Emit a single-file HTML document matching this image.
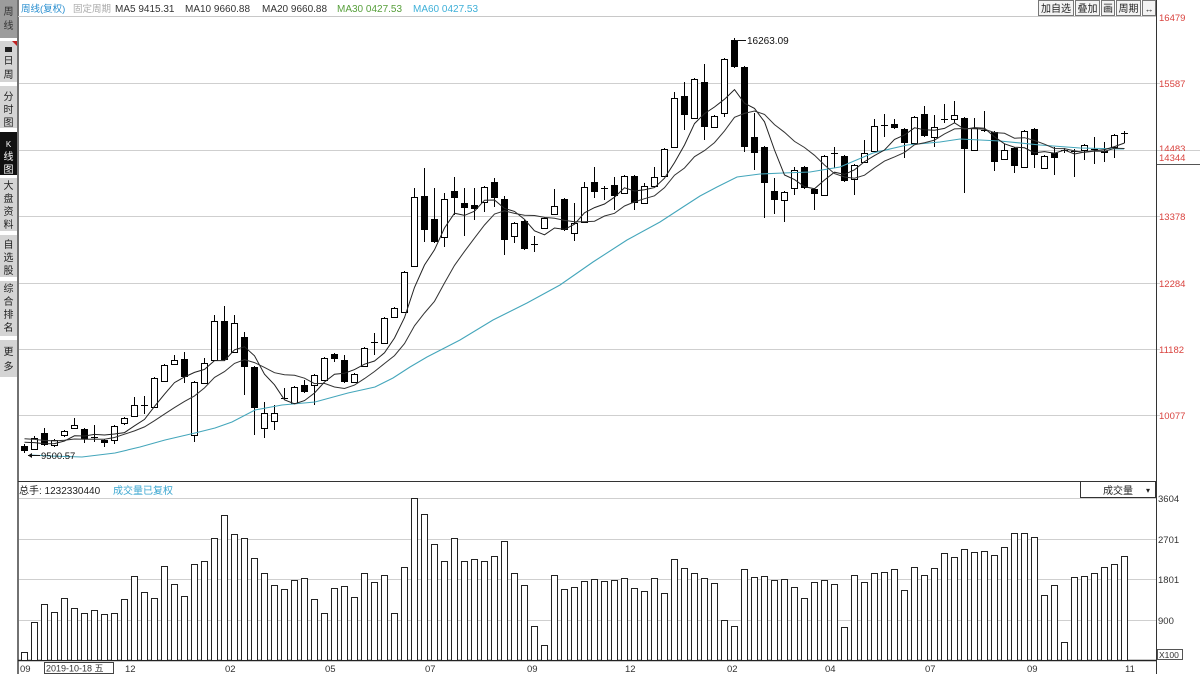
<!DOCTYPE html>
<html><head><meta charset="utf-8">
<style>
html,body{margin:0;padding:0;background:#fff;}
#w{position:relative;width:1200px;height:674px;overflow:hidden;background:#fff;}
svg{position:absolute;left:0;top:0;}
text{font-family:"Liberation Sans","Noto Sans CJK SC",sans-serif;}
</style></head><body>
<div id="w">
<svg width="1200" height="674" viewBox="0 0 1200 674" xmlns="http://www.w3.org/2000/svg">
<!-- sidebar -->
<g font-size="10" text-anchor="middle">
<rect x="0" y="0" width="17" height="38" fill="#9c9c9c"/>
<text x="8.5" y="15" fill="#333">周</text><text x="8.5" y="29" fill="#333">线</text>
<rect x="0" y="41" width="17" height="41" fill="#d4d4d4"/>
<polygon points="12,41 17,41 17,46" fill="#c02020"/>
<rect x="5" y="47" width="7" height="5" fill="#222"/>
<text x="8.5" y="64" fill="#222">日</text><text x="8.5" y="78" fill="#222">周</text>
<rect x="0" y="86" width="17" height="42" fill="#d4d4d4"/>
<text x="8.5" y="100" fill="#222">分</text><text x="8.5" y="113" fill="#222">时</text><text x="8.5" y="126" fill="#222">图</text>
<rect x="0" y="132" width="17" height="43" fill="#111"/>
<text x="8.5" y="147" fill="#fff" font-size="8">K</text><text x="8.5" y="160" fill="#fff">线</text><text x="8.5" y="173" fill="#fff">图</text>
<rect x="0" y="178" width="17" height="53" fill="#d4d4d4"/>
<text x="8.5" y="189" fill="#222">大</text><text x="8.5" y="202" fill="#222">盘</text><text x="8.5" y="215" fill="#222">资</text><text x="8.5" y="228" fill="#222">料</text>
<rect x="0" y="235" width="17" height="42" fill="#d4d4d4"/>
<text x="8.5" y="248" fill="#222">自</text><text x="8.5" y="261" fill="#222">选</text><text x="8.5" y="274" fill="#222">股</text>
<rect x="0" y="281" width="17" height="55" fill="#d4d4d4"/>
<text x="8.5" y="292" fill="#222">综</text><text x="8.5" y="305" fill="#222">合</text><text x="8.5" y="318" fill="#222">排</text><text x="8.5" y="331" fill="#222">名</text>
<rect x="0" y="340" width="17" height="37" fill="#d4d4d4"/>
<text x="8.5" y="355" fill="#222">更</text><text x="8.5" y="370" fill="#222">多</text>
</g>
<line x1="18" y1="0" x2="18" y2="674" stroke="#444" stroke-width="1.5"/>

<!-- header -->
<line x1="18" y1="16.5" x2="1156" y2="16.5" stroke="#c8c8c8"/>
<g font-size="10">
<text x="21" y="12" fill="#2a8fd0" font-size="9.5">周线(复权)</text>
<text x="73" y="12" fill="#aaa" font-size="9.5">固定周期</text>
<text x="115" y="12" fill="#333">MA5  9415.31</text>
<text x="185" y="12" fill="#333">MA10  9660.88</text>
<text x="262" y="12" fill="#333">MA20  9660.88</text>
<text x="337" y="12" fill="#58a03c">MA30  0427.53</text>
<text x="413" y="12" fill="#3fb0d8">MA60  0427.53</text>
</g>

<!-- toolbar -->
<g font-size="10" text-anchor="middle" fill="#222">
<rect x="1038.5" y="0.5" width="35" height="15" fill="#f4f4f4" stroke="#777"/>
<text x="1056" y="12">加自选</text>
<rect x="1075.5" y="0.5" width="24" height="15" fill="#f4f4f4" stroke="#777"/>
<text x="1087.5" y="12">叠加</text>
<rect x="1101.5" y="0.5" width="13" height="15" fill="#f4f4f4" stroke="#777"/>
<text x="1108" y="12">画</text>
<rect x="1116.5" y="0.5" width="24" height="15" fill="#f4f4f4" stroke="#777"/>
<text x="1128.5" y="12">周期</text>
<rect x="1142.5" y="0.5" width="13" height="15" fill="#f4f4f4" stroke="#777"/>
<text x="1149" y="12" font-size="9">↔</text>
</g>

<!-- main grid -->
<g stroke="#cfcfcf" stroke-width="1">
<line x1="19" y1="83.5" x2="1160" y2="83.5"/>
<line x1="19" y1="150.5" x2="1200" y2="150.5"/>
<line x1="19" y1="216.5" x2="1160" y2="216.5"/>
<line x1="19" y1="283.5" x2="1160" y2="283.5"/>
<line x1="19" y1="349.5" x2="1160" y2="349.5"/>
<line x1="19" y1="415.5" x2="1160" y2="415.5"/>
<line x1="19" y1="498.5" x2="1156" y2="498.5"/>
<line x1="19" y1="539.5" x2="1156" y2="539.5"/>
<line x1="19" y1="579.5" x2="1156" y2="579.5"/>
<line x1="19" y1="620.5" x2="1156" y2="620.5"/>
</g>

<g id="candles"></g>
<polyline fill="none" stroke="#44a6bb" stroke-width="1.1" points="30,455 50,456 82,457 115,453 140,447 165,440 195,433 215,428 232,422 255,410 282,405 315,402 348,393 375,387 393,378 410,367 427,357 460,340 493,320 527,303 560,285 593,262 627,240 660,222 683,207 700,196 717,187 737,177 760,174 783,173 810,172 840,167 873,153 907,145 940,142 960,139 1000,141 1040,145 1080,148 1124,149"/>
<g id="ma"></g>

<!-- annotations -->
<line x1="736" y1="40.5" x2="746" y2="40.5" stroke="#111"/>
<text x="747" y="44" font-size="10" fill="#111">16263.09</text>
<line x1="28" y1="455.5" x2="40" y2="455.5" stroke="#111"/>
<polygon points="28,455.5 32,453 32,458" fill="#111"/>
<text x="41" y="459" font-size="9.5" fill="#111">9500.57</text>

<!-- frame lines -->
<line x1="18" y1="481.5" x2="1156" y2="481.5" stroke="#333"/>
<line x1="1156.5" y1="0" x2="1156.5" y2="674" stroke="#333"/>
<line x1="18" y1="660.5" x2="1156" y2="660.5" stroke="#222" stroke-width="1.5"/>

<!-- right axis labels -->
<g font-size="9.5" fill="#d9433f">
<text x="1159" y="21">16479</text>
<text x="1159" y="87">15587</text>
<text x="1159" y="152">14483</text>
<text x="1159" y="220">13378</text>
<text x="1159" y="287">12284</text>
<text x="1159" y="353">11182</text>
<text x="1159" y="419">10077</text>
</g>
<rect x="1157" y="151" width="43" height="13" fill="#fff"/>
<line x1="1157" y1="164.5" x2="1200" y2="164.5" stroke="#555"/>
<text x="1159" y="161" font-size="9.5" fill="#d9433f">14344</text>

<!-- volume header -->
<text x="19" y="494" font-size="10" fill="#222">总手: 1232330440</text>
<text x="113" y="494" font-size="10" fill="#3aa6d0">成交量已复权</text>
<rect x="1080.5" y="481.5" width="75" height="16" fill="#fff" stroke="#333"/>
<text x="1103" y="494" font-size="10" fill="#222">成交量</text>
<text x="1146" y="493" font-size="8" fill="#222">▾</text>

<g id="vol"></g>

<g font-size="9.5" fill="#333">
<text x="1158" y="502">3604</text>
<text x="1158" y="543">2701</text>
<text x="1158" y="583">1801</text>
<text x="1158" y="624">900</text>
</g>
<rect x="1157.5" y="649.5" width="25" height="10" fill="#fff" stroke="#555"/>
<text x="1159" y="658" font-size="8.5" fill="#333">X100</text>

<!-- x axis labels -->
<g font-size="9.5" fill="#333">
<text x="20" y="672">09</text>
<text x="125" y="672">12</text>
<text x="225" y="672">02</text>
<text x="325" y="672">05</text>
<text x="425" y="672">07</text>
<text x="527" y="672">09</text>
<text x="625" y="672">12</text>
<text x="727" y="672">02</text>
<text x="825" y="672">04</text>
<text x="925" y="672">07</text>
<text x="1027" y="672">09</text>
<text x="1125" y="672">11</text>
</g>
<rect x="44.5" y="662.5" width="69" height="11" fill="#fff" stroke="#444"/>
<text x="46" y="671.5" font-size="9" fill="#333">2019-10-18 五</text>
</svg>
</div>
<script>
(function(){
var D=[
['d',446,451,444,453],['u',438,449,436,450],['d',433,445,428,446],['u',440,445,439,447],['u',431,435,430,437],
['u',425,428,418,429],['d',429,439,428,443],['x',437,437,425,442],['d',440,443,439,447],['u',426,440,425,444],
['u',418,423,417,425],['u',405,416,397,417],['x',405,405,396,414],['u',378,407,377,408],['u',365,381,364,382],
['u',360,364,355,365],['d',359,377,352,383],['u',382,435,381,442],['u',363,383,358,384],['u',321,360,315,361],
['d',321,360,306,361],['u',323,352,315,353],['d',337,367,332,395],['d',367,408,366,435],['u',413,428,402,438],
['u',413,421,405,430],['x',398,398,388,400],['u',387,403,386,404],['d',385,392,380,393],['u',375,385,374,405],
['u',358,380,357,381],['d',354,359,353,362],['d',360,382,355,383],['u',374,382,373,383],['u',348,366,347,367],
['x',342,342,333,355],['u',318,343,317,344],['u',308,317,307,318],['u',272,312,271,313],['u',197,266,188,267],
['d',196,230,168,242],['d',219,242,188,243],['u',199,237,193,247],['d',191,198,177,215],['d',203,208,188,236],
['d',205,209,188,220],['u',187,202,186,212],['d',182,198,178,207],['d',199,240,196,255],['u',223,236,222,243],
['d',221,249,220,250],['x',244,244,236,252],['u',218,228,217,229],['u',206,214,189,215],['d',199,230,198,231],
['u',223,233,203,241],['u',187,222,182,223],['d',182,192,167,198],['x',188,188,186,200],['d',185,196,177,210],
['u',176,193,175,194],['d',176,203,175,210],['u',186,203,183,204],['u',177,186,167,187],['u',149,176,148,177],
['u',98,147,92,148],['d',96,115,82,130],['u',79,118,78,119],['d',82,127,64,140],['u',116,127,115,128],
['u',59,113,58,117],['d',40,67,38,68],['d',67,147,66,152],['d',137,153,113,170],['d',147,183,146,218],
['d',191,200,178,214],['u',192,200,191,222],['u',170,188,167,195],['d',167,188,166,189],['d',189,194,188,210],
['u',156,195,155,196],['x',153,153,147,168],['d',156,181,155,182],['u',165,179,164,195],['u',153,162,140,163],
['u',126,151,119,152],['x',125,125,114,137],['d',124,128,119,129],['d',129,143,128,158],['u',117,143,116,144],
['d',114,136,106,137],['u',127,137,115,147],['x',119,119,104,123],['u',115,119,101,123],['d',118,149,117,193],
['u',128,150,118,151],['x',130,130,111,132],['d',132,162,131,171],['u',150,159,144,160],['d',148,166,147,173],
['u',131,167,130,168],['d',129,155,128,168],['u',156,168,155,169],['d',153,158,147,175],['x',150,150,148,153],
['x',151,151,149,177],['u',145,150,144,160],['x',149,149,137,164],['d',151,153,142,162],['u',135,147,134,158],
['x',133,133,131,143]];
var V=[651.7,621.7,604,611.7,598,607.7,612.7,610,614.3,612.7,599.3,576,591.7,597.7,566,584.3,596,563.7,561,537.7,
515,534.3,538.3,558.3,572.7,585,589,580,578.3,599.3,612.7,587.7,585.7,596.7,572.7,582.3,575,612.7,567.3,498.3,
514,544,560.7,538.3,561.3,559,560.7,555.7,540.7,573.3,585,625.7,645,575,589,587.3,581,579,581.3,580,
577.7,588,590.7,578.3,593.3,559,568.3,573.3,577.7,583.3,620.3,625.7,569,576.7,576,580,579.3,586.7,598.3,582.3,
580,584.3,627.3,575,582,573.3,571.7,569.3,590,566.7,575,568.3,553.3,556.7,549.3,552.3,551,555,546.7,532.7,
532.7,537,595,585.3,641.7,576.7,575.7,573.3,567.3,564,556];
var h='',closes=[432,434,436,437,438,436,439,441,444];
D.forEach(function(c,i){
 var cx=24+10*i,t=c[0],a=c[1],b=c[2],hi=c[3],lo=c[4];
 h+='<line x1="'+(cx+.5)+'" y1="'+hi+'" x2="'+(cx+.5)+'" y2="'+lo+'" stroke="#000"/>';
 if(t==='d'){h+='<rect x="'+(cx-3)+'" y="'+a+'" width="7" height="'+Math.max(b-a,1)+'" fill="#000"/>';closes.push(b);}
 else if(t==='u'){h+='<rect x="'+(cx-2.5)+'" y="'+(a+.5)+'" width="6" height="'+(b-a)+'" fill="#fff" stroke="#000"/>';closes.push(a);}
 else {h+='<line x1="'+(cx-3)+'" y1="'+(a+.5)+'" x2="'+(cx+4)+'" y2="'+(a+.5)+'" stroke="#000"/>';closes.push(a);}
});
document.getElementById('candles').innerHTML=h;
function ma(n){var p='',off=9;for(var i=0;i<D.length;i++){var s=0;for(var k=0;k<n;k++){s+=closes[off+i-k];}var y=s/n;p+=(i?'L':'M')+(24+10*i+.5)+' '+y.toFixed(1);}return p;}
document.getElementById('ma').innerHTML='<path d="'+ma(5)+'" fill="none" stroke="#222" stroke-width="1"/><path d="'+ma(10)+'" fill="none" stroke="#333" stroke-width="1"/>';
var v='';
V.forEach(function(t,i){var cx=24+10*i;var top=Math.round(t);v+='<rect x="'+(cx-2.5)+'" y="'+(top+.5)+'" width="6" height="'+(660-top)+'" fill="#fff" stroke="#222"/>';});
document.getElementById('vol').innerHTML=v;
})();
</script>
</body></html>
